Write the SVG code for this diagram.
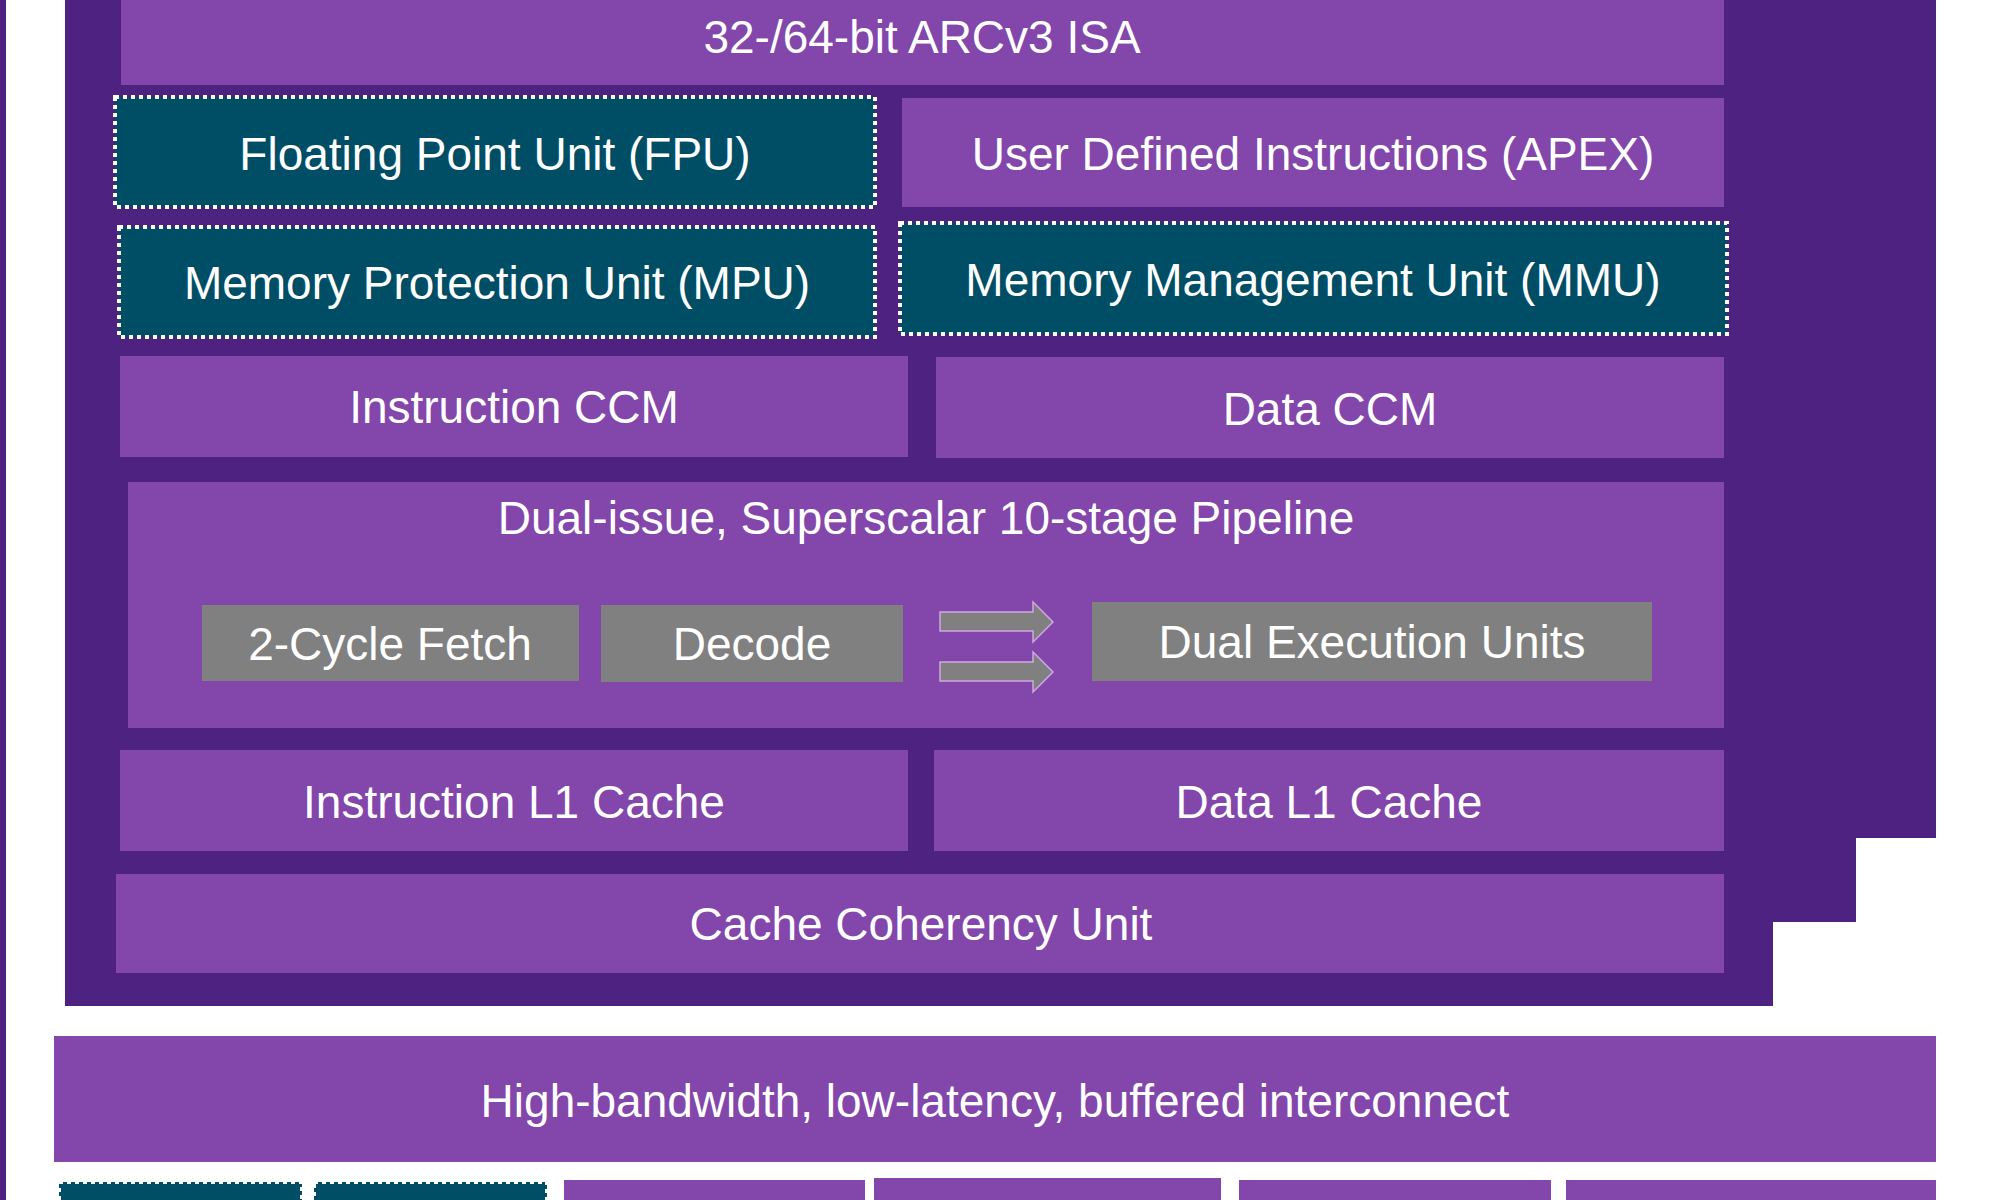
<svg xmlns="http://www.w3.org/2000/svg" width="2000" height="1200" viewBox="0 0 2000 1200">
<style>
.card{fill:#4E2280}
.p{fill:#8346AB}
.t{fill:#004D66;stroke:#fff;stroke-width:4;stroke-dasharray:4 4}
.g{fill:#808080}
.tx{font-family:"Liberation Sans",Arial,sans-serif;font-size:46px;fill:#fff;text-anchor:middle;dominant-baseline:central}
.ar{fill:#808080;stroke:#D0A8E0;stroke-width:1.5}
</style>
<rect width="2000" height="1200" fill="#fff"/>
<rect x="0" y="0" width="6" height="1200" class="card"/>
<rect x="193" y="0" width="1743" height="838" class="card"/>
<rect x="129" y="0" width="1727" height="922" class="card"/>
<rect x="65" y="0" width="1708" height="1006" class="card"/>
<g id="isa"><rect x="121" y="0" width="1603" height="85" class="p"/><text x="922" y="37" class="tx" font-size="44">32-/64-bit ARCv3 ISA</text></g>
<g id="fpu"><rect x="115" y="97" width="760" height="110" class="t"/><text x="495" y="154" class="tx">Floating Point Unit (FPU)</text></g>
<g id="apex"><rect x="902" y="98" width="822" height="109" class="p"/><text x="1313" y="154" class="tx">User Defined Instructions (APEX)</text></g>
<g id="mpu"><rect x="119" y="227" width="756" height="110" class="t"/><text x="497" y="283" class="tx">Memory Protection Unit (MPU)</text></g>
<g id="mmu"><rect x="900" y="223" width="827" height="111" class="t"/><text x="1313" y="280" class="tx">Memory Management Unit (MMU)</text></g>
<g id="iccm"><rect x="120" y="356" width="788" height="101" class="p"/><text x="514" y="407" class="tx">Instruction CCM</text></g>
<g id="dccm"><rect x="936" y="357" width="788" height="101" class="p"/><text x="1330" y="409" class="tx">Data CCM</text></g>
<g id="pipeline"><rect x="128" y="482" width="1596" height="246" class="p"/><text x="926" y="518" class="tx" font-size="44">Dual-issue, Superscalar 10-stage Pipeline</text></g>
<g id="fetch"><rect x="202" y="605" width="377" height="76" class="g"/><text x="390" y="644" class="tx">2-Cycle Fetch</text></g>
<g id="decode"><rect x="601" y="605" width="302" height="77" class="g"/><text x="752" y="644" class="tx">Decode</text></g>
<g id="exec"><rect x="1092" y="602" width="560" height="79" class="g"/><text x="1372" y="642" class="tx">Dual Execution Units</text></g>
<g id="connectors">
<path class="ar" d="M940 612H1033V602L1053 622L1033 642V631H940Z"/>
<path class="ar" d="M940 662H1033V652L1053 672L1033 692V681H940Z"/>
</g>
<g id="il1"><rect x="120" y="750" width="788" height="101" class="p"/><text x="514" y="802" class="tx">Instruction L1 Cache</text></g>
<g id="dl1"><rect x="934" y="750" width="790" height="101" class="p"/><text x="1329" y="802" class="tx">Data L1 Cache</text></g>
<g id="ccu"><rect x="116" y="874" width="1608" height="99" class="p"/><text x="921" y="924" class="tx">Cache Coherency Unit</text></g>
<g id="interconnect"><rect x="54" y="1036" width="1882" height="126" class="p"/><text x="995" y="1101" class="tx">High-bandwidth, low-latency, buffered interconnect</text></g>
<g id="b1"><rect x="59" y="1182" width="243" height="30" class="t"/></g>
<g id="b2"><rect x="314" y="1182" width="233" height="30" class="t"/></g>
<g id="b3"><rect x="564" y="1180" width="301" height="20" class="p"/></g>
<g id="b4"><rect x="874" y="1178" width="347" height="22" class="p"/></g>
<g id="b5"><rect x="1239" y="1180" width="312" height="20" class="p"/></g>
<g id="b6"><rect x="1566" y="1180" width="370" height="20" class="p"/></g>
</svg>
